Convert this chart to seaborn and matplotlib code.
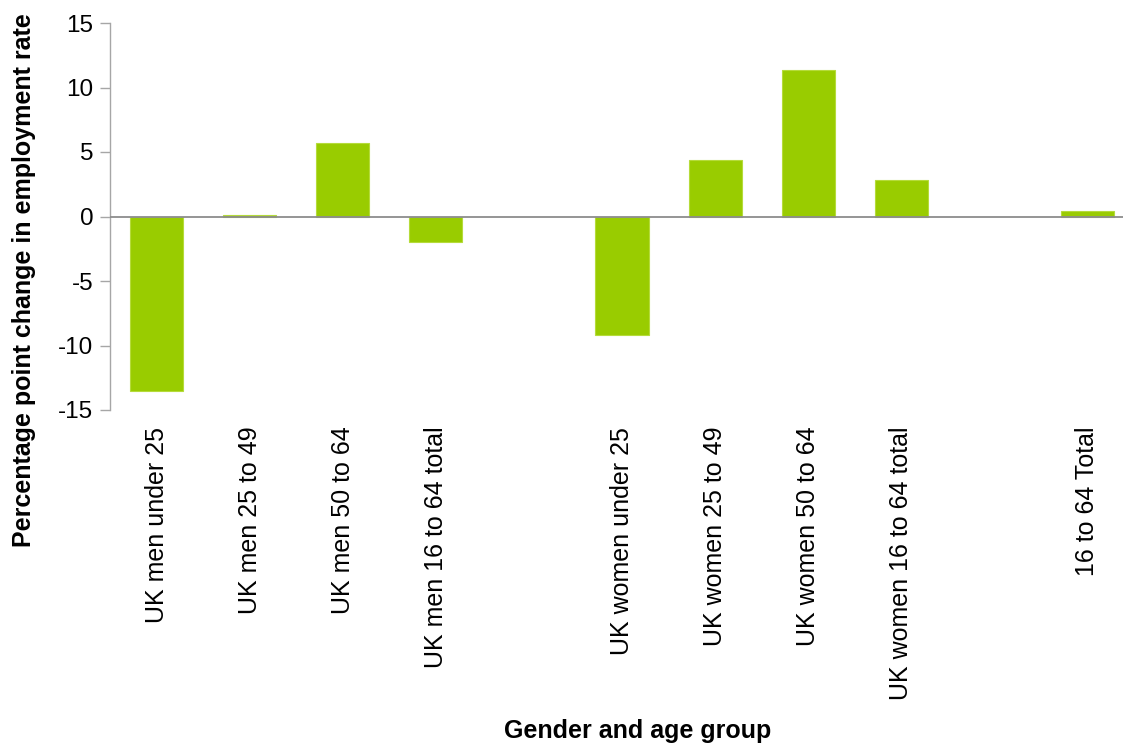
import matplotlib
matplotlib.use("Agg")
import matplotlib.pyplot as plt
import seaborn as sns
import pandas as pd

# Slot order along the x axis; the blank entries leave gaps between groups
slot_order = [
    "UK men under 25", "UK men 25 to 49", "UK men 50 to 64", "UK men 16 to 64 total",
    " ",
    "UK women under 25", "UK women 25 to 49", "UK women 50 to 64", "UK women 16 to 64 total",
    "  ",
    "16 to 64 Total",
]
groups = [
    "UK men under 25", "UK men 25 to 49", "UK men 50 to 64", "UK men 16 to 64 total",
    "UK women under 25", "UK women 25 to 49", "UK women 50 to 64", "UK women 16 to 64 total",
    "16 to 64 Total",
]
changes = [-13.5, 0.15, 5.7, -1.95, -9.2, 4.35, 11.35, 2.85, 0.45]

df = pd.DataFrame({"group": groups, "change": changes})

sns.set_theme(style="white")
plt.rcParams["font.family"] = ["Liberation Sans", "DejaVu Sans"]
plt.rcParams["axes.unicode_minus"] = False

fig = plt.figure(figsize=(11.23, 7.44), dpi=100)
ax = fig.add_axes([110 / 1123, 1 - 410 / 744, 1024 / 1123, 387 / 744])

sns.barplot(data=df, x="group", y="change", order=slot_order, color="#99CC00",
            width=0.57, saturation=1, edgecolor="#B5DB3A", linewidth=0.8, ax=ax)

ax.set_ylim(-15, 15)
ax.set_xlim(-0.5, len(slot_order) - 0.5)
ax.set_yticks(range(-15, 16, 5))
ax.tick_params(axis="y", labelsize=17.5, length=7, width=1, color="#A6A6A6",
               left=True, pad=5, labelcolor="black")
ax.tick_params(axis="x", labelsize=18, length=0, pad=12, labelcolor="black")
for lbl in ax.get_xticklabels():
    lbl.set_rotation(90)
    lbl.set_va("top")
    lbl.set_ha("center")

ax.axhline(0, color="#8C8C8C", linewidth=1.3, zorder=3)
for side in ["top", "right", "bottom"]:
    ax.spines[side].set_visible(False)
ax.spines["left"].set_color("#A6A6A6")
ax.spines["left"].set_linewidth(1)

ax.set_xlabel("")
ax.set_ylabel("Percentage point change in employment rate", fontsize=18,
              fontweight="bold", color="black")
ax.yaxis.set_label_coords(-0.072, 0.336)

fig.text(638 / 1123, 1 - 731 / 744, "Gender and age group", fontsize=18,
         fontweight="bold", ha="center", va="center", color="black")

fig.savefig("out.png", dpi=100, facecolor="white")
